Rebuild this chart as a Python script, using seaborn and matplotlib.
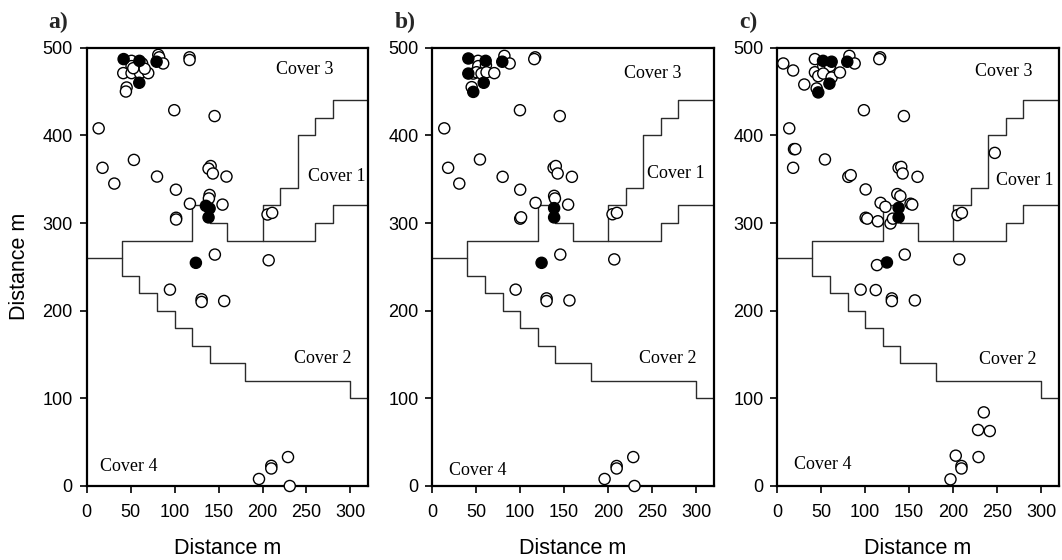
import numpy as np
import pandas as pd
import matplotlib
matplotlib.use("Agg")
import matplotlib.pyplot as plt
import seaborn as sns

sns.set_theme(style="white")
plt.rcParams['font.family'] = ['Liberation Sans', 'DejaVu Sans']

# ---------------- data ----------------
# Panel a
a_open_x = [51, 51, 63, 41.6, 51, 60.6, 70, 53, 66, 45.4, 44.6, 81.4, 82.5, 87, 117, 117,
            13.6, 99.6, 145.5, 18, 53.7, 31.4, 80, 141, 138.6, 143.5, 159, 101.5, 139.8, 139,
            117.4, 154.5, 101.7, 101.7, 205.7, 211, 145.8, 207, 94.7, 130.7, 130.7, 156.4,
            196, 210, 210, 229, 231]
a_open_y = [485, 479, 482, 471, 471, 471, 471, 476.6, 476, 454.6, 450, 491.8, 489, 482, 489, 486,
            408, 428.7, 422, 363, 372, 345, 353, 365, 362, 356.5, 353, 338, 332, 328,
            322, 321, 306, 304, 309.7, 311.6, 264, 257.5, 224, 213, 210, 211,
            8, 23, 20, 33, 0]
a_fill_x = [42, 60, 79.5, 59.8, 135.6, 139.8, 138.6, 124.2]
a_fill_y = [487, 485, 484, 460, 319.6, 316.6, 306.4, 254.6]

# Panel b
b_open_x = [52, 52.3, 61, 46.6, 50.4, 56, 61.7, 70.5, 44.8, 82, 88, 117, 116,
            13.6, 99.7, 145, 18, 54.2, 30.7, 80, 138, 140.5, 142.6, 158.8, 100, 138.6, 139.5,
            117.5, 154.5, 100, 101, 205, 210, 145.6, 207, 94.8, 130, 130, 156,
            196, 209.7, 209.7, 228.6, 230]
b_open_y = [485, 479, 480, 470.5, 472, 470.5, 472, 471, 455, 490.7, 482, 489, 487,
            408, 428.7, 422, 363, 372.5, 345, 352.7, 363, 365, 356.5, 352.7, 338, 331, 328,
            323, 321, 305, 306.5, 310, 311.6, 264, 258.5, 224, 214, 211, 211.7,
            8, 22.8, 20, 33, 0]
b_fill_x = [41, 60.7, 79.6, 41, 58.5, 46.6, 138.6, 138.6, 124.3]
b_fill_y = [487.7, 485, 484, 470.5, 460, 449.6, 317, 306.4, 254.6]

# Panel c
c_open_x = [6.8, 18, 30.7, 42.8, 42.8, 46.6, 52.3, 59.9, 52.3, 61.8, 71.3, 44.8, 82, 88, 117, 116,
            98.5, 144, 13.6, 19, 20.5, 18, 54.2, 247.4, 80.8, 83.5, 138, 141, 142.6, 159.5,
            100.5, 136.5, 140, 117.5, 123, 151.6, 153.5, 100.5, 102.3, 114.4, 128.8, 131.5,
            205, 210, 145, 113.4, 207, 94.8, 112, 130.3, 130.3, 156.5,
            234.9, 228.4, 241.7, 203, 228.9, 209.5, 209.5, 197]
c_open_y = [482, 474, 458, 487, 472, 467.5, 479, 479, 470.5, 466, 471.7, 453.5, 490.7, 482, 489, 487,
            428.7, 422, 408, 384.3, 384.3, 363, 372.5, 380, 352.7, 354.6, 363, 364, 356.5, 352.7,
            338.3, 333, 330.7, 323, 318.5, 322, 321, 306, 305, 302, 299.5, 305,
            309, 311.6, 264, 252, 258.5, 224, 223.5, 214, 211, 211.7,
            84, 63.9, 62.7, 34.6, 33, 22.8, 20, 7.6]
c_fill_x = [52, 61.8, 79.6, 59.3, 46.6, 138, 138, 124.7]
c_fill_y = [485, 484, 484, 459, 449, 317.3, 306.4, 255]

# Cover boundaries (step lines)
bound1_x = [0, 40, 40, 120, 120, 140, 140, 160, 160, 260, 260, 280, 280, 320]
bound1_y = [260, 260, 280, 280, 320, 320, 300, 300, 280, 280, 300, 300, 320, 320]
bound2_x = [200, 200, 220, 220, 240, 240, 260, 260, 280, 280, 320]
bound2_y = [280, 320, 320, 340, 340, 400, 400, 420, 420, 440, 440]
bound3_x = [40, 40, 60, 60, 80, 80, 100, 100, 120, 120, 140, 140, 180, 180, 300, 300, 320]
bound3_y = [260, 240, 240, 220, 220, 200, 200, 180, 180, 160, 160, 140, 140, 120, 120, 100, 100]

panel_labels = ["a)", "b)", "c)"]
cover_names = ["Cover 1", "Cover 2", "Cover 3", "Cover 4"]
# label anchor positions (data units) per panel
cover_pos = {
    "a)": [(284, 353), (269, 146), (248, 475), (48, 22)],
    "b)": [(277, 356), (268, 146), (251, 471), (52, 18)],
    "c)": [(281, 349), (262, 144), (258, 473), (52, 24)],
}

x_ticks = [0, 50, 100, 150, 200, 250, 300]
y_ticks = [0, 100, 200, 300, 400, 500]

panels = [
    ("a)", a_open_x, a_open_y, a_fill_x, a_fill_y),
    ("b)", b_open_x, b_open_y, b_fill_x, b_fill_y),
    ("c)", c_open_x, c_open_y, c_fill_x, c_fill_y),
]

# ---------------- figure ----------------
W, H = 1062, 560
fig = plt.figure(figsize=(W / 100, H / 100), dpi=100)
lefts = [86.7, 432.3, 777.3]
ax_w = 281.3
ax_top, ax_bot = 47.7, 486.0

for i, (lab, ox, oy, fx, fy) in enumerate(panels):
    ax = fig.add_axes([lefts[i] / W, 1 - ax_bot / H, ax_w / W, (ax_bot - ax_top) / H])

    for bx, by in [(bound1_x, bound1_y), (bound2_x, bound2_y), (bound3_x, bound3_y)]:
        sns.lineplot(x=bx, y=by, sort=False, estimator=None, ax=ax,
                     color="#2b2b2b", linewidth=1.0, zorder=1)

    df = pd.concat([
        pd.DataFrame({"x": ox, "y": oy, "state": "open"}),
        pd.DataFrame({"x": fx, "y": fy, "state": "filled"}),
    ], ignore_index=True)
    sns.scatterplot(data=df, x="x", y="y", hue="state",
                    palette={"open": "white", "filled": "black"},
                    edgecolor="black", linewidth=1.0, s=64, legend=False,
                    ax=ax, zorder=3, clip_on=False)

    for name, (tx, ty) in zip(cover_names, cover_pos[lab]):
        ax.text(tx, ty, name, ha="center", va="center", fontsize=13,
                family=["Liberation Serif", "DejaVu Serif"], color="black")

    ax.set_xlim(0, 320)
    ax.set_ylim(0, 500)
    ax.set_xticks(x_ticks)
    ax.set_yticks(y_ticks)
    ax.tick_params(axis="both", direction="out", length=5, width=1.2,
                   labelsize=13, colors="black", bottom=True, left=True,
                   top=False, right=False)
    ax.tick_params(axis="x", pad=8)
    ax.tick_params(axis="y", pad=5)
    for sp in ax.spines.values():
        sp.set_visible(True)
        sp.set_color("black")
        sp.set_linewidth(1.6)
    ax.set_xlabel("Distance m", fontsize=15.5, labelpad=12, color="black")
    if i == 0:
        ax.set_ylabel("Distance m", fontsize=15.5, labelpad=9, color="black")
    else:
        ax.set_ylabel("")
    ax.grid(False)
    ax.set_facecolor("white")

    fig.text((lefts[i] - 38) / W, 1 - 22 / H, lab, ha="left", va="center",
             fontsize=17, fontweight="bold",
             family=["Liberation Serif", "DejaVu Serif"])

fig.savefig("out.png", dpi=100, facecolor="white")
